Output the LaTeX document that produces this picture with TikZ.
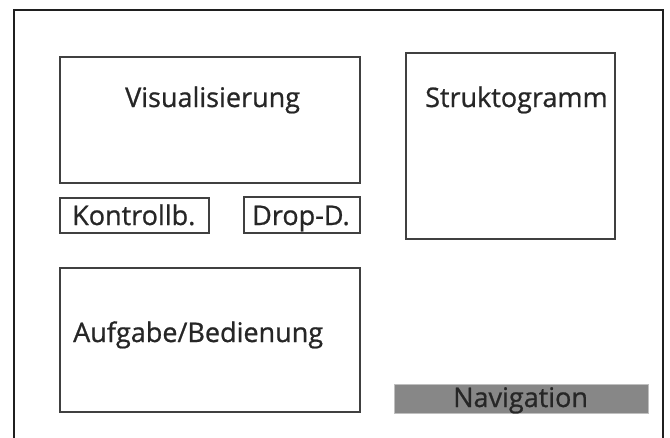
\documentclass[tikz,border=0pt]{standalone}
\usepackage{fontspec}
\setmainfont{Open Sans}
\newfontface\lblface{Open Sans}[FakeBold=0.8]
\begin{document}
\begin{tikzpicture}[x=1pt,y=-1pt,
  frame/.style={draw=black!88,line width=2.1pt},
  panel/.style={draw=black!75,line width=2.1pt},
  lbl/.style={anchor=base west,inner sep=0pt,text=black!85,font=\lblface\fontsize{27}{30}\selectfont},
  navbar/.style={fill=black!47,draw=black!25,line width=0.6pt}]
\useasboundingbox (0,0) rectangle (670,437);
% outer screen frame, open at the bottom
\draw[frame] (14,440) -- (14,10) -- (663,10) -- (663,440);
% panels
\draw[panel] (60,57) rectangle (360,183);
\draw[panel] (406,53) rectangle (615,239);
\draw[panel] (60,198) rectangle (209,233);
\draw[panel] (244,197) rectangle (360,233);
\draw[panel] (60,268) rectangle (360,412);
\draw[navbar] (394,384) rectangle (648,413);
% labels
\node[lbl] (vis) at (125,107) {Visualisierung};
\node[lbl] (struk) at (425,107) {Struktogramm};
\node[lbl] (kon) at (72,225) {Kontrollb.};
\node[lbl] (drop) at (252,225) {Drop-D.};
\node[lbl] (auf) at (73,342) {Aufgabe/Bedienung};
\node[lbl] (nav) at (453,407) {Navigation};
\end{tikzpicture}
\end{document}
